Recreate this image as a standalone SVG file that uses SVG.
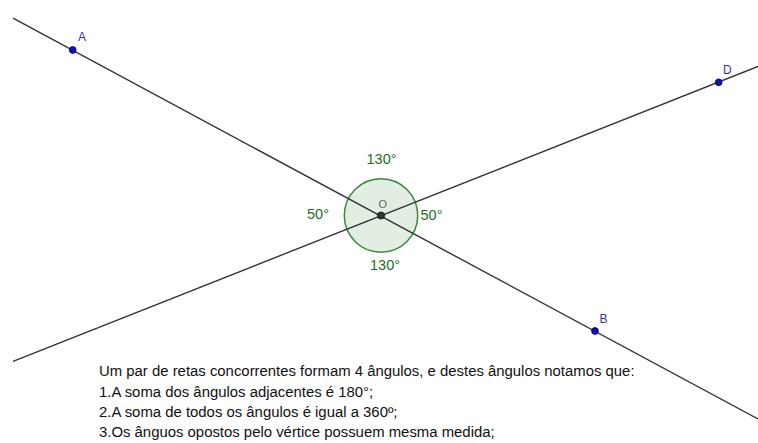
<svg xmlns="http://www.w3.org/2000/svg" width="758" height="443" viewBox="0 0 758 443">
<style>
.ln{stroke:#333333;stroke-width:1.4;fill:none}
.pt{fill:#1010b8;stroke:#00006a;stroke-width:0.8}
.plab{font-family:"Liberation Sans",Arial,sans-serif;font-size:12px;fill:#3030c8}
.ang{font-family:"Liberation Sans",Arial,sans-serif;font-size:14.5px;fill:#1e6e1e}
.txt{font-family:"Liberation Sans",Arial,sans-serif;font-size:14.9px;fill:#111111}
</style>
<rect width="758" height="443" fill="#ffffff"/>
<g id="angle">
<circle cx="381" cy="215.5" r="36.7" fill="#e3eee2" stroke="#3a8a3a" stroke-width="1.5"/>
</g>
<g id="connectors">
<line class="ln" x1="13" y1="18.2" x2="758" y2="419"/>
<line class="ln" x1="13" y1="361.3" x2="758" y2="66.5"/>
</g>
<g id="angle-labels">
<text class="ang" x="366.5" y="164">130°</text>
<text class="ang" x="307" y="219">50°</text>
<text class="ang" x="420.5" y="220">50°</text>
<text class="ang" x="370" y="270">130°</text>
</g>
<g id="O">
<circle cx="381" cy="215.5" r="3.6" fill="#333333" stroke="#111111" stroke-width="0.8"/>
<text x="378.5" y="208" font-family="Liberation Sans,Arial,sans-serif" font-size="11px" fill="#666666">O</text>
</g>
<g id="A">
<circle class="pt" cx="72.7" cy="50" r="3.4"/>
<text class="plab" x="78" y="41">A</text>
</g>
<g id="B">
<circle class="pt" cx="595" cy="331" r="3.4"/>
<text class="plab" x="599.5" y="323">B</text>
</g>
<g id="D">
<circle class="pt" cx="718.7" cy="82.3" r="3.4"/>
<text class="plab" x="723" y="74">D</text>
</g>
<g id="text">
<text class="txt" x="99" y="376">Um par de retas concorrentes formam 4 ângulos, e destes ângulos notamos que:</text>
<text class="txt" x="99" y="396.5">1.A soma dos ângulos adjacentes é 180°;</text>
<text class="txt" x="99" y="417">2.A soma de todos os ângulos é igual a 360º;</text>
<text class="txt" x="99" y="437">3.Os ânguos opostos pelo vértice possuem mesma medida;</text>
</g>
</svg>
